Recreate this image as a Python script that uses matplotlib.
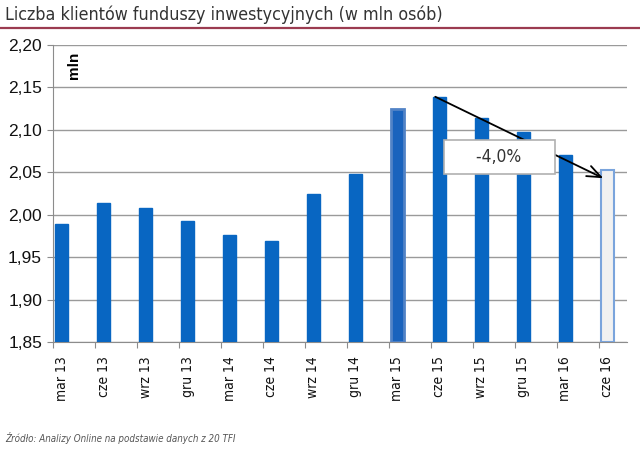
import matplotlib

matplotlib.use("Agg")
import matplotlib.pyplot as plt
import numpy as np

# data (mln clients)
quarters = ["mar 13", "cze 13", "wrz 13", "gru 13", "mar 14", "cze 14", "wrz 14",
            "gru 14", "mar 15", "cze 15", "wrz 15", "gru 15", "mar 16", "cze 16"]
clients = [1.989, 2.014, 2.008, 1.993, 1.976, 1.969, 2.024,
           2.048, 2.125, 2.139, 2.114, 2.097, 2.070, 2.053]
change_label = "-4,0%"

title = "Liczba klientów funduszy inwestycyjnych (w mln osób)"
source = "Źródło: Analizy Online na podstawie danych z 20 TFI"

blue = "#0866c2"
cond = dict(family="DejaVu Sans", stretch="condensed")

fig = plt.figure(figsize=(6.4, 4.54), dpi=100)
ax = fig.add_axes([0.083, 0.2467, 0.897, 0.6542])

x = np.arange(len(quarters))
face = [blue] * len(quarters)
edge = [blue] * len(quarters)
lws = [1.0] * len(quarters)
face[8], edge[8], lws[8] = "#1a63bd", "#5283c6", 2.0
face[-1], edge[-1], lws[-1] = "#f1f1f1", "#7aa4dc", 1.5
bars = ax.bar(x + 0.05, np.array(clients) - 1.85, bottom=1.85, width=0.31,
              align="edge", color=face, edgecolor=edge, linewidth=lws, zorder=3)

ax.set_ylim(1.85, 2.20)
ax.set_xlim(0, 13.67)
yt = np.arange(1.85, 2.201, 0.05)
ax.set_yticks(yt)
ax.set_yticklabels([f"{v:.2f}".replace(".", ",") for v in yt],
                   fontsize=12.5, family="Liberation Sans", color="#111111")
ax.yaxis.grid(True, color="#9a9a9a", linewidth=1.0, zorder=0)
ax.set_xticks(x)
ax.set_xticklabels([])
ax.set_xticks(x + 0.2, minor=True)
ax.set_xticklabels(quarters, minor=True, rotation=90, fontsize=10, color="#111111", **cond)
ax.tick_params(axis="x", which="minor", length=0, pad=10)
ax.tick_params(axis="x", which="major", length=4, color="#8c8c8c", direction="out")
ax.tick_params(axis="y", length=4, color="#8c8c8c", direction="out", pad=4)
for s in ["top", "right"]:
    ax.spines[s].set_visible(False)
ax.spines["left"].set_color("#8c8c8c")
ax.spines["bottom"].set_color("#8c8c8c")

ax.text(0.5, 2.192, "mln", rotation=90, fontsize=11, fontweight="bold",
        family="Liberation Sans", ha="center", va="top")

# change from cze 15 to cze 16
ax.annotate("", xy=(13.1, clients[-1] - 0.010), xytext=(9.1, clients[9]),
            arrowprops=dict(arrowstyle="->,head_length=1.0,head_width=0.4",
                            color="black", lw=1.3, shrinkA=0, shrinkB=0), zorder=4)
ax.text(10.62, 2.068, "     " + change_label + "     ", ha="center", va="center",
        fontsize=12.5, color="#333333", zorder=5, **cond,
        bbox=dict(boxstyle="square,pad=0.45", facecolor="white", edgecolor="#b0b0b0", lw=1.2))

fig.text(0.008, 0.968, title, fontsize=12.8, color="#333333", ha="left", va="center", **cond)
fig.add_artist(plt.Line2D([0, 1], [0.938, 0.938], color="#9b3b50", lw=1.6))
fig.text(0.008, 0.035, source, fontsize=7.0, style="italic", color="#555555",
         ha="left", va="center", **cond)

fig.savefig("out.png", dpi=100)
